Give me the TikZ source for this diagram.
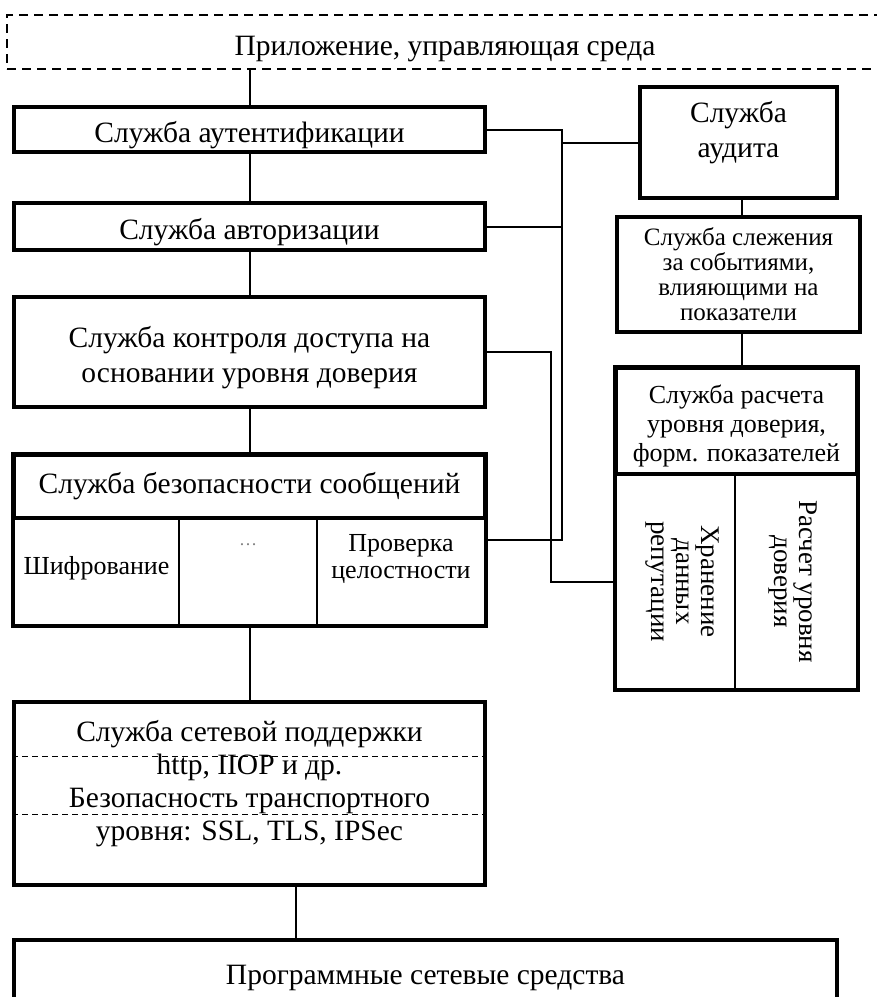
\documentclass[tikz,border=0pt]{standalone}
\usepackage{fontspec}
\setmainfont{Liberation Serif}
\begin{document}
\begin{tikzpicture}[x=1pt,y=-1pt]
        \tikzstyle{every node}=[inner sep=0pt, align=center, font=\fontsize{29.5}{35}\selectfont]
        \tikzstyle{box}=[draw, line width=3.5pt]
        \tikzstyle{cell}=[draw, line width=2.5pt]
        \tikzstyle{link}=[line width=2pt]
        \tikzstyle{low}=[text height=26pt, text depth=0pt]
        \tikzstyle{small}=[font=\fontsize{25}{25}\selectfont]
        \tikzstyle{tiny}=[font=\fontsize{26}{27}\selectfont]
        \tikzstyle{side}=[font=\fontsize{27}{25}\selectfont, rotate=-90]
        \useasboundingbox (0,0) rectangle (877,997);
        \clip (0,0) rectangle (877,997);
        % left column
        \node[low, draw, line width=2pt, dash pattern=on 9pt off 6pt, minimum width=876pt, minimum height=54pt] (app) at (445,42) {Приложение, управляющая среда};
        \node[low, box, minimum width=471pt, minimum height=45pt] (auth) at (249.5,129.5) {Служба аутентификации};
        \node[low, box, minimum width=471pt, minimum height=47pt] (authz) at (249.5,226.5) {Служба авторизации};
        \node[box, minimum width=471pt, minimum height=110pt] (access) at (249.5,352) {};
        \node (accesstxt) at ([yshift=-6pt]access.center) {Служба контроля доступа на\\основании уровня доверия};
        \node[box, minimum width=471pt, minimum height=63pt] (msg) at (249.5,486.5) {Служба безопасности сообщений};
        \node[cell, minimum width=165pt, minimum height=107pt] (c1) at (96.5,571.5) {};
        \node[cell, minimum width=138pt, minimum height=107pt] (c2) at (248,571.5) {};
        \node[cell, minimum width=168pt, minimum height=107pt] (c3) at (401,571.5) {};
        \draw[box] (msg.north west) rectangle (c3.south east);
        \node[tiny] (t1) at ([yshift=3pt]c1.center) {Шифрование};
        \node[font=\fontsize{18}{18}\selectfont, text=gray] (t2) at ([yshift=27pt]c2.center) {\dots};
        \node[tiny] (t3) at ([yshift=13pt]c3.center) {Проверка\\целостности};
        \node[box, minimum width=471pt, minimum height=183pt] (net) at (249.5,793.5) {};
        \node[font=\fontsize{29.5}{33}\selectfont] (nettxt) at ([yshift=10pt]net.center) {Служба сетевой поддержки\\http, IIOP и др.\\Безопасность транспортного\\уровня: SSL, TLS, IPSec};
        \draw[line width=1.5pt, dash pattern=on 6pt off 4pt] ([yshift=-56pt]net.north west) -- ([yshift=-56pt]net.north east);
        \draw[line width=1.5pt, dash pattern=on 6pt off 4pt] ([yshift=-114pt]net.north west) -- ([yshift=-114pt]net.north east);
        \node[box, minimum width=823pt, minimum height=70pt] (soft) at (425.5,975) {};
        \node (softtxt) at ([yshift=-3pt]soft.center) {Программные сетевые средства};
        % right column
        \node[box, minimum width=197pt, minimum height=111pt] (audit) at (738.5,142.5) {};
        \node (audittxt) at ([yshift=10pt]audit.center) {Служба\\аудита};
        \node[box, small, minimum width=243pt, minimum height=115pt] (event) at (738.5,274.5) {Служба слежения\\за событиями,\\влияющими на\\показатели};
        \node[box, minimum width=241pt, minimum height=106pt] (trust) at (736.5,421) {};
        \node[font=\fontsize{26}{29}\selectfont] (trusttxt) at ([yshift=-5pt]trust.center) {Служба расчета\\уровня доверия,\\форм. показателей};
        \node[cell, minimum width=119pt, minimum height=215pt] (k1) at (675.5,581.5) {};
        \node[cell, minimum width=122pt, minimum height=215pt] (k2) at (796,581.5) {};
        \draw[box] (trust.north west) rectangle (k2.south east);
        \node[side] (k1txt) at ([xshift=7pt]k1.center) {Хранение\\данных\\репутации};
        \node[side] (k2txt) at ([xshift=-3pt]k2.center) {Расчет уровня\\доверия};
        % links
        \coordinate (rline) at (742,0);
        \coordinate (bus) at (562,0);
        \coordinate (bus2) at (551,0);
        \draw[link] (auth.north) -- (auth.north |- app.south);
        \draw[link] (auth.south) -- (authz.north);
        \draw[link] (authz.south) -- (access.north);
        \draw[link] (access.south) -- (msg.north);
        \draw[link] (net.north |- c2.south) -- (net.north);
        \draw[link] ([xshift=46.5pt]net.south) -- ([xshift=46.5pt]net.south |- soft.north);
        \draw[link] (audit.south -| rline) -- (event.north -| rline);
        \draw[link] (event.south -| rline) -- (trust.north -| rline);
        \draw[link] (auth.east) -- (auth.east -| bus) -- ([yshift=31.5pt]c3.east -| bus) -- ([yshift=31.5pt]c3.east);
        \draw[link] (authz.east) -- (authz.east -| bus);
        \draw[link] (audit.west) -- (audit.west -| bus);
        \draw[link] (access.east) -- (access.east -| bus2) -- (k1.west -| bus2) -- (k1.west);
    \end{tikzpicture}
\end{document}
